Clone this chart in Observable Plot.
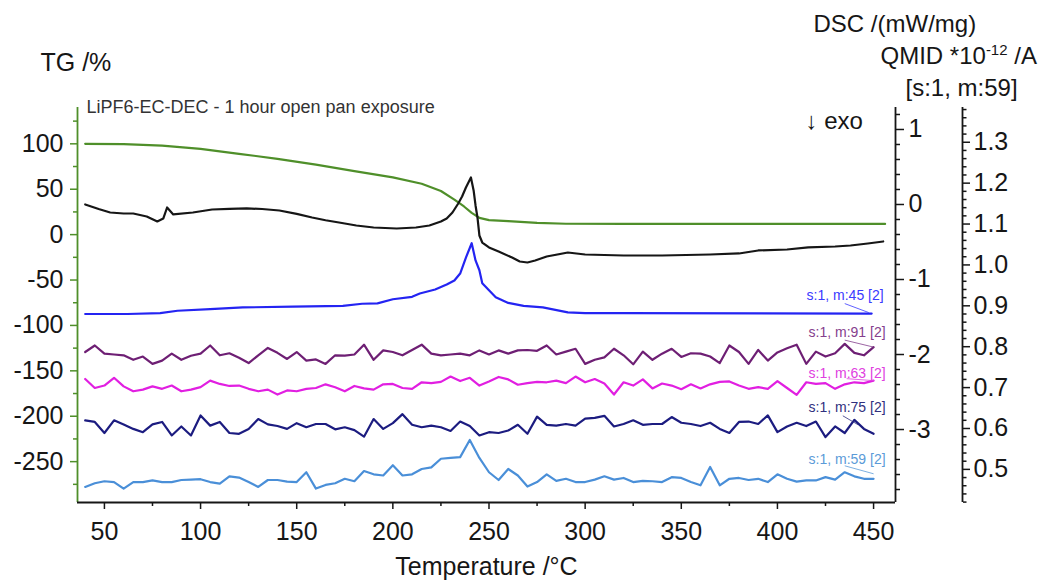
<!DOCTYPE html>
<html><head><meta charset="utf-8">
<script src="https://cdn.jsdelivr.net/npm/d3@7"></script>
<script src="https://cdn.jsdelivr.net/npm/@observablehq/plot@0.6"></script>
<style>html,body{margin:0;padding:0;background:#fff}svg{display:block}</style>
</head><body><div id="chart"></div>
<script>
// ---------- data ----------
// TG (%) vs temperature (°C)
const tgT = [40,60,80,100,120,140,160,180,200,215,225,232,237,241,245,250,260,275,290,320,400,456];
const tgV = [100,99.6,98,94.5,89,83.5,77,70,63,56,48,38.5,31,24,18.5,16,14.8,13,12,11.8,11.8,11.8];

// DSC (mW/mg)
const dscT = [40,47,53,60,65,72,77.5,80.6,82.6,85.8,96,106,115,124,132,141,150,158,165,172,181,190,202,212,219,225,228,231,234,236,238,240.6,242,243,244,245,246.5,250,255,262,266,270,274,280,291,300,320,340,365,380,390,405,416,430,438,447,455];
const dscV = [0,-0.06,-0.107,-0.12,-0.12,-0.16,-0.227,-0.187,-0.04,-0.133,-0.107,-0.067,-0.058,-0.053,-0.06,-0.08,-0.125,-0.173,-0.21,-0.24,-0.28,-0.307,-0.32,-0.307,-0.28,-0.227,-0.187,-0.107,0.013,0.107,0.227,0.36,0.187,-0.013,-0.173,-0.413,-0.507,-0.573,-0.627,-0.707,-0.76,-0.773,-0.747,-0.693,-0.64,-0.667,-0.68,-0.68,-0.667,-0.653,-0.613,-0.6,-0.573,-0.56,-0.547,-0.52,-0.493];

// QMID ion currents (read against the [s:1, m:59] axis, 1e-12 A)
const m45T = [40,62,79,88,105,122,148,174,184,192,200,210,214,222,228,232,235,238,241,243,245,246.5,250,253.5,260,268,278,291,300,320,449];
const m45V = [0.880,0.880,0.882,0.888,0.892,0.896,0.898,0.900,0.905,0.906,0.916,0.922,0.930,0.940,0.952,0.962,0.979,1.018,1.053,1.011,0.987,0.955,0.938,0.921,0.907,0.900,0.896,0.884,0.882,0.882,0.881];

const msT = [40,45,50,55,60,65,70,75,80,85,90,95,100,105,110,115,120,125,130,135,140,145,150,155,160,165,170,175,180,185,190,195,200,205,210,215,220,225,230,235,240,245,250,255,260,265,270,275,280,285,290,295,300,305,310,315,320,325,330,335,340,345,350,355,360,365,370,375,380,385,390,395,400,405,410,415,420,425,430,435,440,445,450];
const m91V = [0.787,0.803,0.783,0.781,0.779,0.768,0.776,0.758,0.766,0.783,
  0.768,0.778,0.783,0.803,0.779,0.784,0.773,0.760,0.779,0.797,
  0.785,0.770,0.787,0.766,0.769,0.758,0.779,0.778,0.781,0.805,
  0.768,0.791,0.787,0.779,0.792,0.805,0.783,0.779,0.781,0.783,
  0.779,0.791,0.781,0.791,0.783,0.791,0.792,0.790,0.803,0.781,
  0.788,0.795,0.758,0.768,0.774,0.795,0.779,0.757,0.788,0.768,
  0.783,0.795,0.775,0.784,0.783,0.776,0.760,0.803,0.787,0.758,
  0.792,0.766,0.786,0.796,0.805,0.758,0.788,0.776,0.784,0.807,
  0.785,0.779,0.799];
const m63V = [0.721,0.699,0.705,0.724,0.703,0.691,0.695,0.703,0.697,0.705,
  0.691,0.695,0.701,0.717,0.709,0.704,0.705,0.697,0.691,0.695,
  0.683,0.693,0.691,0.697,0.699,0.708,0.701,0.691,0.704,0.698,
  0.695,0.708,0.709,0.699,0.697,0.713,0.711,0.714,0.727,0.716,
  0.724,0.705,0.715,0.726,0.720,0.707,0.711,0.714,0.713,0.717,
  0.711,0.727,0.713,0.721,0.710,0.683,0.713,0.705,0.720,0.698,
  0.710,0.705,0.696,0.708,0.698,0.708,0.714,0.715,0.705,0.697,
  0.701,0.697,0.716,0.699,0.682,0.713,0.709,0.711,0.697,0.708,
  0.713,0.711,0.717];
const m75V = [0.620,0.616,0.589,0.620,0.610,0.599,0.591,0.610,0.616,0.583,
  0.605,0.583,0.632,0.607,0.616,0.589,0.587,0.599,0.623,0.610,
  0.606,0.599,0.613,0.603,0.611,0.611,0.598,0.603,0.596,0.580,
  0.623,0.599,0.613,0.635,0.609,0.603,0.607,0.603,0.594,0.617,
  0.606,0.583,0.591,0.589,0.595,0.609,0.587,0.629,0.609,0.607,
  0.611,0.607,0.624,0.626,0.631,0.605,0.611,0.620,0.609,0.611,
  0.611,0.628,0.614,0.611,0.606,0.614,0.599,0.589,0.616,0.617,
  0.611,0.632,0.591,0.605,0.614,0.606,0.617,0.579,0.605,0.589,
  0.621,0.599,0.587];
const m59V = [0.457,0.466,0.471,0.469,0.453,0.469,0.469,0.473,0.469,0.469,
  0.474,0.475,0.476,0.469,0.465,0.483,0.480,0.469,0.457,0.474,
  0.474,0.470,0.469,0.493,0.453,0.462,0.466,0.477,0.471,0.496,
  0.488,0.485,0.510,0.485,0.488,0.501,0.505,0.526,0.528,0.530,
  0.572,0.528,0.493,0.474,0.501,0.485,0.458,0.469,0.488,0.472,
  0.477,0.469,0.469,0.475,0.483,0.475,0.479,0.469,0.472,0.471,
  0.469,0.481,0.479,0.469,0.461,0.506,0.461,0.477,0.479,0.474,
  0.477,0.469,0.488,0.477,0.470,0.473,0.473,0.481,0.475,0.493,
  0.483,0.477,0.477];

// tick labels
const xTicks = [50,100,150,200,250,300,350,400,450];
const tgTicks = [-250,-200,-150,-100,-50,0,50,100];
const dscTicks = [1,0,-1,-2,-3];
const qTicks = [0.5,0.6,0.7,0.8,0.9,1.0,1.1,1.2,1.3];

// ---------- scales ----------
const X_DOMAIN = [36, 461.4];
const TG_DOMAIN = [-295, 140];
const DSC_DOMAIN = [-3.973, 1.293];
const Q_DOMAIN = [0.419, 1.385];
const dsc2tg = d3.scaleLinear(DSC_DOMAIN, TG_DOMAIN);
const q2tg = d3.scaleLinear(Q_DOMAIN, TG_DOMAIN);
const PX = 395 / (TG_DOMAIN[1] - TG_DOMAIN[0]); // pixels per TG unit (for small label offsets)

const xMinor = d3.range(75, 451, 50);
const tgMinor = d3.range(-275, 126, 50);
const dscMinor = d3.range(-38, 13, 2).map(d => d / 10).filter(d => Math.abs(d - Math.round(d)) > 1e-6);
const qMinor = d3.range(42, 139, 2).map(d => d / 100).filter(d => Math.abs(d * 10 - Math.round(d * 10)) > 1e-6);

const rows = (T, V) => T.map((t, i) => ({T: t, v: V[i]}));
const tg = rows(tgT, tgV), dsc = rows(dscT, dscV);
// lead: [dT start, px above start, dT end, px above end] of the small leader stroke
const series = [
  {name: "s:1, m:45 [2]", data: rows(m45T, m45V), color: "#2424f2", label: "#3a3aff", dy: -14, lead: [-14, 10, -1.5, 1]},
  {name: "s:1, m:91 [2]", data: rows(msT, m91V), color: "#6e1f74", label: "#85408d", dy: -10, lead: [-15, 7, 0, 0]},
  {name: "s:1, m:63 [2]", data: rows(msT, m63V), color: "#e11fe1", label: "#e040e0", dy: -3, lead: [-14, 2, 0, 0]},
  {name: "s:1, m:75 [2]", data: rows(msT, m75V), color: "#1c1c80", label: "#30307e", dy: -22, lead: [-16, 18, -8, 9]},
  {name: "s:1, m:59 [2]", data: rows(msT, m59V), color: "#4a8fd8", label: "#5b9bd8", dy: -15, lead: [-15, 13, 0, 5]}
];

const FONT = "'Liberation Sans', Arial, Helvetica, sans-serif";
const GREEN = "#4f8f2a";
const INK = "#161616";

const marks = [
  // axis lines
  Plot.ruleX([X_DOMAIN[0]], {stroke: GREEN, strokeWidth: 1.8}),
  Plot.ruleY([TG_DOMAIN[0]], {stroke: INK, strokeWidth: 1.8}),
  Plot.ruleX([X_DOMAIN[1]], {stroke: INK, strokeWidth: 1.8}),
  Plot.ruleX([X_DOMAIN[1]], {stroke: INK, strokeWidth: 1.8, dx: 67}),
  // bottom axis
  Plot.axisX(xTicks, {tickSize: 7, tickPadding: 13, fontSize: 25, stroke: INK, fill: INK, strokeWidth: 1.5, tickFormat: d => String(d), label: null}),
  Plot.axisX(xMinor, {tickSize: 4, stroke: INK, strokeWidth: 1.5, tickFormat: () => "", label: null}),
  // left TG axis
  Plot.axisY(tgTicks, {anchor: "left", tickSize: 7, tickPadding: 7, fontSize: 25, stroke: GREEN, fill: INK, strokeWidth: 1.5, tickFormat: d => String(d), label: null}),
  Plot.axisY(tgMinor, {anchor: "left", tickSize: 4, stroke: GREEN, strokeWidth: 1.5, tickFormat: () => "", label: null}),
  // right DSC axis
  Plot.axisY(dscTicks.map(d => dsc2tg(d)), {anchor: "right", tickSize: 8, tickPadding: 5, fontSize: 25, stroke: INK, fill: INK, strokeWidth: 1.5, tickFormat: d => String(Math.round(dsc2tg.invert(d))), label: null}),
  Plot.axisY(dscMinor.map(d => dsc2tg(d)), {anchor: "right", tickSize: 4, stroke: INK, strokeWidth: 1.5, tickFormat: () => "", label: null}),
  // right QMID axis
  Plot.axisY(qTicks.map(d => q2tg(d)), {anchor: "right", dx: 67, tickSize: 7, tickPadding: 4, fontSize: 25, stroke: INK, fill: INK, strokeWidth: 1.5, tickFormat: d => q2tg.invert(d).toFixed(1), label: null}),
  Plot.axisY(qMinor.map(d => q2tg(d)), {anchor: "right", dx: 67, tickSize: 3.5, stroke: INK, strokeWidth: 1.5, tickFormat: () => "", label: null}),
  // curves
  Plot.line(tg, {x: "T", y: "v", stroke: GREEN, strokeWidth: 2.2}),
  Plot.line(dsc, {x: "T", y: d => dsc2tg(d.v), stroke: INK, strokeWidth: 2.2}),
  ...series.map(s => Plot.line(s.data, {x: "T", y: d => q2tg(d.v), stroke: s.color, strokeWidth: 2.2})),
  // curve labels and their small leader strokes
  ...series.map(s => Plot.link(s.data.slice(-1), {
    x1: d => d.T + s.lead[0], y1: d => q2tg(d.v) + s.lead[1] / PX,
    x2: d => d.T + s.lead[2], y2: d => q2tg(d.v) + s.lead[3] / PX,
    stroke: s.label, strokeWidth: 1, strokeOpacity: 0.8})),
  ...series.map(s => Plot.text(s.data.slice(-1), {x: "T", y: d => q2tg(d.v), text: () => s.name, textAnchor: "end", lineAnchor: "bottom", dx: 12, dy: s.dy, fontSize: 14, fill: s.label})),
  // titles
  Plot.text(["TG /%"], {text: d => d, frameAnchor: "top-left", dx: -37, dy: -37, textAnchor: "start", lineAnchor: "bottom", fontSize: 25, fill: INK}),
  Plot.text(["LiPF6-EC-DEC - 1 hour open pan exposure"], {text: d => d, frameAnchor: "top-left", dx: 9, dy: 5, textAnchor: "start", lineAnchor: "bottom", fontSize: 18, fill: "#333"}),
  Plot.text(["DSC /(mW/mg)"], {text: d => d, frameAnchor: "top-right", dx: -82, dy: -76, textAnchor: "start", lineAnchor: "bottom", fontSize: 24, fill: INK}),
  Plot.text(["QMID *10-12 /A"], {text: d => d, frameAnchor: "top-right", dx: -15, dy: -44, textAnchor: "start", lineAnchor: "bottom", fontSize: 24, fill: INK}),
  Plot.text(["[s:1, m:59]"], {text: d => d, frameAnchor: "top-right", dx: 10, dy: -12, textAnchor: "start", lineAnchor: "bottom", fontSize: 24, fill: INK}),
  Plot.text(["\u2193 exo"], {text: d => d, frameAnchor: "top-right", dx: -90, dy: 21, textAnchor: "start", lineAnchor: "bottom", fontSize: 24, fill: INK}),
  Plot.text(["Temperature /\u00B0C"], {text: d => d, frameAnchor: "bottom", dy: 72, textAnchor: "middle", lineAnchor: "bottom", fontSize: 25, fill: INK})
];

const chart = Plot.plot({
  width: 1046, height: 581,
  marginLeft: 77, marginRight: 151, marginTop: 107, marginBottom: 79,
  style: {fontFamily: FONT, background: "#fff", color: INK},
  x: {domain: X_DOMAIN, label: null},
  y: {domain: TG_DOMAIN, label: null},
  marks
});

// superscript for the QMID unit
const NS = "http://www.w3.org/2000/svg";
chart.querySelectorAll("text").forEach(t => {
  if (t.textContent === "QMID *10-12 /A") {
    t.textContent = "";
    const a = document.createElementNS(NS, "tspan"); a.textContent = "QMID *10";
    const b = document.createElementNS(NS, "tspan"); b.textContent = "-12"; b.setAttribute("dy", "-9"); b.setAttribute("font-size", "15");
    const c = document.createElementNS(NS, "tspan"); c.textContent = " /A"; c.setAttribute("dy", "9");
    t.append(a, b, c);
  }
});
document.getElementById("chart").append(chart);
</script>
</body></html>
